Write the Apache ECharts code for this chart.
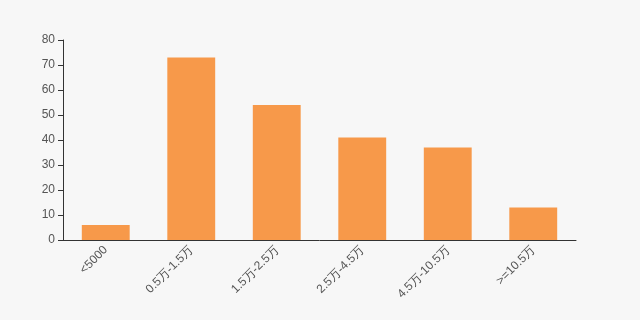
<!DOCTYPE html>
<html><head><meta charset="utf-8">
<script src="https://cdn.jsdelivr.net/npm/echarts@6/dist/echarts.min.js"></script>
<style>html,body{margin:0;padding:0;background:#f7f7f7}#c{width:640px;height:320px}</style>
</head><body><div id="c"></div>
<script>
const categories = ["<5000", "0.5万-1.5万", "1.5万-2.5万", "2.5万-4.5万", "4.5万-10.5万", ">=10.5万"];
const values = [6, 73, 54, 41, 37, 13];
const yTicks = {min: 0, max: 80, interval: 10};

const chart = echarts.init(document.getElementById('c'), null, {renderer: 'canvas'});
chart.setOption({
  backgroundColor: '#f7f7f7',
  animation: false,
  grid: {left: 63, right: 64, top: 40, bottom: 80},
  xAxis: {
    type: 'category',
    data: categories,
    axisLine: {lineStyle: {color: '#333'}},
    axisTick: {lineStyle: {color: '#333'}},
    axisLabel: {rotate: 45, color: '#555', fontSize: 12, fontFamily: 'sans-serif', interval: 0}
  },
  yAxis: {
    type: 'value',
    min: yTicks.min, max: yTicks.max, interval: yTicks.interval,
    axisLine: {show: true, lineStyle: {color: '#333'}},
    axisTick: {show: true, lineStyle: {color: '#333'}},
    splitLine: {show: false},
    axisLabel: {color: '#555', fontSize: 12, fontFamily: 'sans-serif'}
  },
  series: [{
    type: 'bar',
    data: values,
    barWidth: '56%',
    itemStyle: {color: '#f7994a'}
  }]
});
</script></body></html>
